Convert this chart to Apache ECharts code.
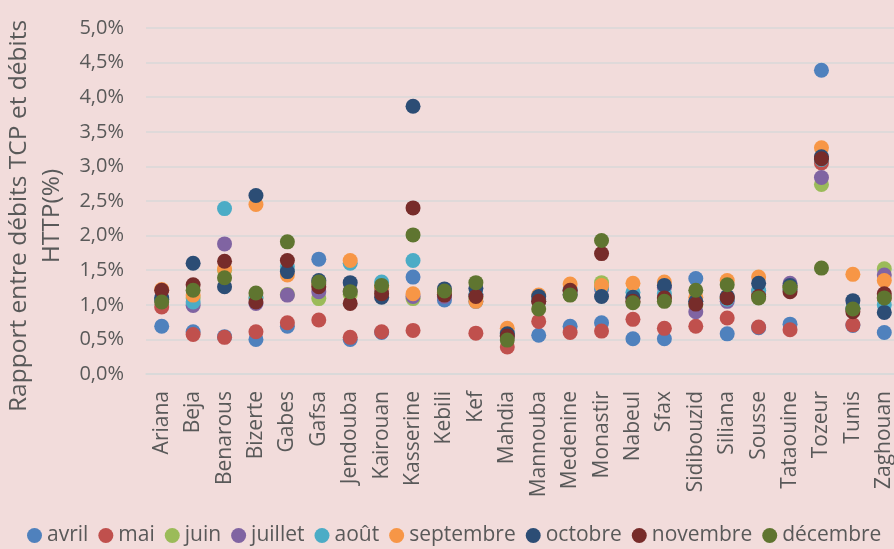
<!DOCTYPE html>
<html>
<head>
<meta charset="utf-8">
<script src="https://cdn.jsdelivr.net/npm/echarts@6/dist/echarts.min.js"></script>
<style>
  html, body { margin: 0; padding: 0; background: #f2dcdb; }
</style>
</head>
<body>

<div id="main" style="width: 894px;height:549px;"></div>

<script type="text/javascript">
    // villes (axe x)
    var villes = ['Ariana', 'Beja', 'Benarous', 'Bizerte', 'Gabes', 'Gafsa', 'Jendouba', 'Kairouan',
        'Kasserine', 'Kebili', 'Kef', 'Mahdia', 'Mannouba', 'Medenine', 'Monastir', 'Nabeul',
        'Sfax', 'Sidibouzid', 'Siliana', 'Sousse', 'Tataouine', 'Tozeur', 'Tunis', 'Zaghouan'];

    // valeurs en % par mois
    var avril     = [0.69, 0.61, 0.54, 0.50, 0.69, 1.66, 0.50, 0.60, 1.40, 1.07, 1.05, 0.55, 0.56, 0.69, 0.74, 0.51, 0.51, 1.38, 0.58, 0.67, 0.72, 4.39, 0.70, 0.60];
    var mai       = [0.97, 0.57, 0.53, 0.61, 0.74, 0.78, 0.53, 0.61, 0.63, 1.15, 0.59, 0.39, 0.76, 0.60, 0.62, 0.79, 0.66, 0.69, 0.81, 0.68, 0.64, 3.05, 0.71, 1.10];
    var juin      = [1.08, 1.10, 1.50, 1.10, 1.15, 1.09, 1.15, 1.20, 1.09, 1.15, 1.10, 0.55, 1.05, 1.20, 1.32, 1.10, 1.10, 1.00, 1.10, 1.15, 1.25, 2.74, 0.95, 1.52];
    var juillet   = [1.07, 0.99, 1.88, 1.02, 1.14, 1.19, 1.20, 1.22, 1.12, 1.12, 1.15, 0.55, 1.05, 1.20, 1.23, 1.10, 1.25, 0.90, 1.05, 1.20, 1.31, 2.84, 0.95, 1.43];
    var aout      = [1.08, 1.04, 2.39, 1.10, 1.55, 1.30, 1.60, 1.33, 1.64, 1.15, 1.15, 0.60, 1.08, 1.22, 1.25, 1.18, 1.16, 1.05, 1.08, 1.21, 1.22, 3.10, 0.95, 1.00];
    var septembre = [1.22, 1.14, 1.52, 2.45, 1.43, 1.30, 1.64, 1.25, 1.16, 1.18, 1.05, 0.66, 1.14, 1.30, 1.28, 1.31, 1.33, 1.11, 1.35, 1.40, 1.26, 3.27, 1.44, 1.35];
    var octobre   = [1.10, 1.60, 1.26, 2.58, 1.48, 1.35, 1.32, 1.11, 3.87, 1.23, 1.24, 0.58, 1.12, 1.15, 1.12, 1.11, 1.28, 1.05, 1.12, 1.31, 1.28, 3.14, 1.06, 0.89];
    var novembre  = [1.21, 1.29, 1.63, 1.04, 1.64, 1.26, 1.02, 1.16, 2.40, 1.14, 1.12, 0.55, 1.05, 1.21, 1.74, 1.05, 1.10, 1.01, 1.10, 1.12, 1.19, 3.11, 0.90, 1.16];
    var decembre  = [1.04, 1.21, 1.39, 1.17, 1.91, 1.33, 1.19, 1.28, 2.01, 1.20, 1.32, 0.49, 0.94, 1.14, 1.93, 1.03, 1.05, 1.21, 1.29, 1.10, 1.25, 1.53, 0.94, 1.10];

    var mois = ['avril', 'mai', 'juin', 'juillet', 'août', 'septembre', 'octobre', 'novembre', 'décembre'];
    var valeurs = [avril, mai, juin, juillet, aout, septembre, octobre, novembre, decembre];
    var couleurs = ['#4f81bd', '#c0504d', '#9bbb59', '#8064a2', '#4bacc6', '#f79646', '#2c4d75', '#772c2a', '#5f7530'];

    var police = 'Open Sans';
    var gris = '#595959';

    var series = [];
    for (var i = 0; i < mois.length; i++) {
        series.push({
            name: mois[i],
            type: 'scatter',
            symbol: 'circle',
            symbolSize: 15,
            itemStyle: { color: couleurs[i], opacity: 1 },
            data: valeurs[i]
        });
    }

    var myChart = echarts.init(document.getElementById('main'));

    var option = {
        backgroundColor: '#f2dcdb',
        color: couleurs,
        animation: false,
        grid: {
            left: 146,
            right: -6,
            top: 28,
            bottom: 175,
            outerBoundsMode: 'none'
        },
        // légende en bas
        legend: {
            data: mois,
            bottom: -2,
            left: 22,
            icon: 'circle',
            itemWidth: 15,
            itemHeight: 15,
            itemGap: 10,
            textStyle: { fontFamily: police, fontSize: 21, color: gris }
        },
        xAxis: {
            type: 'category',
            data: villes,
            boundaryGap: true,
            axisLine: { show: true, lineStyle: { color: '#d9d9d9', width: 1.5 } },
            axisTick: { show: false },
            axisLabel: {
                rotate: 90,
                interval: 0,
                margin: 17,
                fontFamily: police,
                fontSize: 21,
                color: gris
            }
        },
        yAxis: {
            type: 'value',
            min: 0,
            max: 5,
            interval: 0.5,
            name: 'Rapport entre débits TCP et débits\nHTTP(%)',
            nameLocation: 'middle',
            nameRotate: 90,
            nameGap: 68,
            nameTextStyle: { fontFamily: police, fontSize: 24.5, color: gris, lineHeight: 33, padding: [0, 30, 0, 0] },
            axisLine: { show: false },
            axisTick: { show: false },
            splitLine: { lineStyle: { color: '#d9d9d9', width: 1.5 } },
            axisLabel: {
                margin: 22,
                fontFamily: police,
                fontSize: 20,
                color: gris,
                formatter: function (v) {
                    return v.toFixed(1).replace('.', ',') + '%';
                }
            }
        },
        series: series
    };

    myChart.setOption(option);
</script>

</body>
</html>
